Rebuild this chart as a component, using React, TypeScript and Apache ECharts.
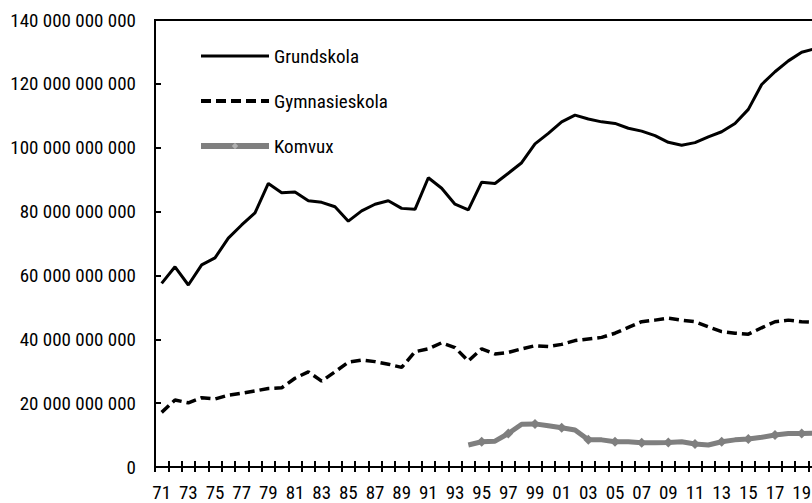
import React, { useEffect, useRef } from 'react';
import * as echarts from 'echarts';

const years = ['71', '72', '73', '74', '75', '76', '77', '78', '79', '80',
  '81', '82', '83', '84', '85', '86', '87', '88', '89', '90',
  '91', '92', '93', '94', '95', '96', '97', '98', '99', '00',
  '01', '02', '03', '04', '05', '06', '07', '08', '09', '10',
  '11', '12', '13', '14', '15', '16', '17', '18', '19', '20'];

// values in billions of kronor
const grundskolaBn = [57.5, 62.7, 57.0, 63.3, 65.5, 71.7, 75.8, 79.6, 88.8, 85.9,
  86.1, 83.4, 82.9, 81.5, 77.0, 80.2, 82.3, 83.4, 81.0, 80.7,
  90.6, 87.3, 82.3, 80.5, 89.2, 88.8, 92.0, 95.3, 101.2, 104.5,
  108.1, 110.2, 109.0, 108.1, 107.6, 106.1, 105.2, 103.8, 101.7, 100.8,
  101.6, 103.4, 105.0, 107.6, 112.0, 119.8, 123.8, 127.2, 129.9, 131.0];

const gymnasieskolaBn = [17.1, 21.0, 20.1, 21.7, 21.3, 22.5, 23.1, 23.8, 24.6, 24.8,
  27.8, 29.8, 26.9, 29.8, 32.8, 33.5, 33.0, 32.2, 31.2, 36.1,
  37.0, 38.9, 37.4, 33.2, 37.0, 35.4, 35.9, 37.0, 38.0, 37.7,
  38.4, 39.6, 40.1, 40.6, 41.9, 43.7, 45.5, 46.0, 46.6, 46.0,
  45.5, 43.9, 42.4, 41.9, 41.6, 43.6, 45.5, 46.0, 45.5, 45.3];

const komvuxBn = [null, null, null, null, null, null, null, null, null, null,
  null, null, null, null, null, null, null, null, null, null,
  null, null, null, 6.9, 7.9, 8.1, 10.5, 13.4, 13.5, 12.9,
  12.3, 11.6, 8.5, 8.5, 7.9, 7.9, 7.6, 7.6, 7.7, 7.9,
  7.2, 6.9, 7.9, 8.5, 8.8, 9.3, 10.0, 10.5, 10.5, 10.6];

const toFull = (arr: (number | null)[]) => arr.map((v) => (v == null ? null : Math.round(v * 1e9)));

const FONT = "'Roboto Condensed', 'DejaVu Sans Condensed', sans-serif";
const WEIGHT = 'normal';

const fmt = (v: number) => String(Math.round(v)).replace(/\B(?=(\d{3})+(?!\d))/g, ' ');

export default function App() {
  const ref = useRef<HTMLDivElement>(null);
  useEffect(() => {
    if (!ref.current) return;
    const chart = echarts.init(ref.current, undefined, { renderer: 'svg' });
    const axisLine = { show: true, lineStyle: { color: '#000', width: 2 } };
    chart.setOption({
      animation: false,
      backgroundColor: '#fff',
      grid: {
        left: 155, top: 20, height: 447, width: 666.67,
        outerBoundsMode: 'none',
        containLabel: false,
        show: true, borderColor: '#000', borderWidth: 2, backgroundColor: 'transparent',
      },
      legend: {
        orient: 'vertical',
        left: 198,
        top: 46,
        padding: 0,
        itemWidth: 68,
        itemHeight: 8,
        itemGap: 25,
        textStyle: { fontFamily: FONT, fontWeight: WEIGHT, fontSize: 19, color: '#000', lineHeight: 20 },
        data: [
          { name: 'Grundskola', itemStyle: { opacity: 0 }, lineStyle: { width: 3, color: '#000' } },
          { name: 'Gymnasieskola', itemStyle: { opacity: 0 }, lineStyle: { width: 4, color: '#000', type: [10, 5] } },
          { name: 'Komvux', itemStyle: { color: '#b0b0b0' }, lineStyle: { width: 6, color: '#7f7f7f' } },
        ],
      },
      xAxis: [
        {
          type: 'category',
          data: years,
          boundaryGap: true,
          axisLine,
          axisTick: { show: true, inside: true, interval: 0, length: 6, lineStyle: { color: '#000', width: 2 } },
          axisLabel: { interval: 1, fontFamily: FONT, fontWeight: WEIGHT, fontSize: 19, color: '#000', margin: 16 },
          splitLine: { show: false },
        },
        {
          type: 'category',
          data: years,
          position: 'bottom',
          boundaryGap: true,
          axisLine,
          axisTick: { show: true, inside: false, interval: 0, length: 5, lineStyle: { color: '#000', width: 2 } },
          axisLabel: { show: false },
          splitLine: { show: false },
        },
      ],
      yAxis: {
        type: 'value',
        min: 0,
        max: 140e9,
        interval: 20e9,
        axisLine,
        axisTick: { show: true, inside: true, length: 6, lineStyle: { color: '#000', width: 2 } },
        axisLabel: { fontFamily: FONT, fontWeight: WEIGHT, fontSize: 19, color: '#000', margin: 19, formatter: (v: number) => fmt(v) },
        splitLine: { show: false },
      },
      series: [
        {
          name: 'Grundskola',
          type: 'line',
          data: toFull(grundskolaBn),
          symbol: 'none',
          lineStyle: { color: '#000', width: 3 },
          itemStyle: { color: '#000' },
        },
        {
          name: 'Gymnasieskola',
          type: 'line',
          data: toFull(gymnasieskolaBn),
          symbol: 'none',
          lineStyle: { color: '#000', width: 3.5, type: [10, 5] },
          itemStyle: { color: '#000' },
        },
        {
          name: 'Komvux',
          type: 'line',
          data: toFull(komvuxBn),
          symbol: 'diamond',
          symbolSize: 10,
          lineStyle: { color: '#7f7f7f', width: 5 },
          itemStyle: { color: '#7f7f7f' },
        },
      ],
    });
    return () => chart.dispose();
  }, []);
  return <div ref={ref} style={{ position: 'fixed', left: 0, top: 0, width: 812, height: 503 }} />;
}
